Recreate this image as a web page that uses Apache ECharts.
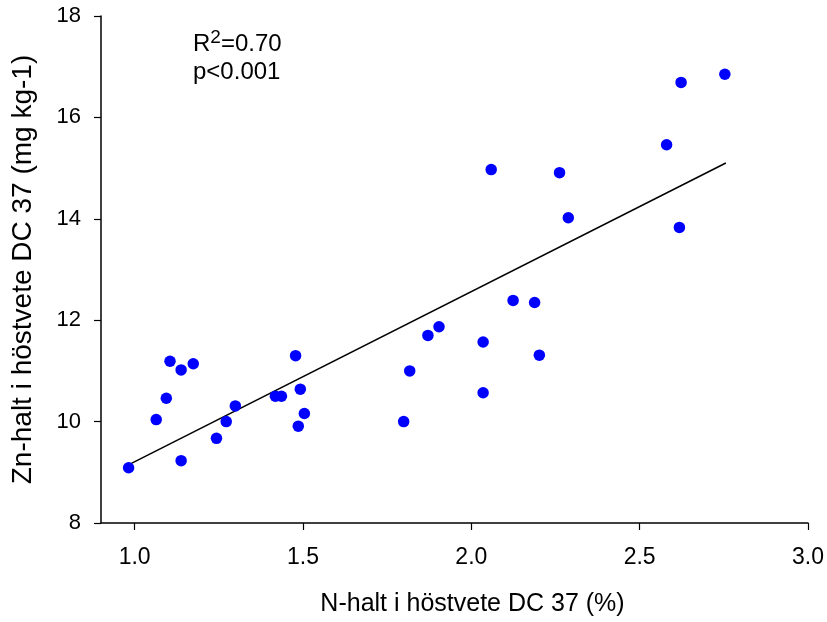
<!DOCTYPE html>
<html><head><meta charset="utf-8">
<script src="https://cdn.jsdelivr.net/npm/echarts@6/dist/echarts.min.js"></script>
<style>html,body{margin:0;padding:0;background:#fff}#c{width:827px;height:622px}</style>
</head><body><div id="c"></div>
<script>
const xValues = [0.982,1.064,1.094,1.105,1.138,1.174,1.138,1.243,1.272,1.299,1.418,1.436,1.478,1.492,1.486,1.504,1.799,1.817,1.871,1.904,2.059,2.262,2.288,2.580,2.618,2.124,2.188,2.035,2.202,2.035,2.623,2.753];
const yValues = [9.09,10.04,10.46,11.19,11.02,11.14,9.23,9.67,10.00,10.31,10.50,10.50,11.30,10.64,9.91,10.16,10.00,11.00,11.70,11.87,14.97,14.91,14.02,15.46,13.83,12.39,12.35,11.57,11.31,10.57,16.69,16.85];
const fitX = [0.98, 2.756];
const fitY = [9.14, 15.10];
const xTicks = [1.0, 1.5, 2.0, 2.5, 3.0];
const yTicks = [8, 10, 12, 14, 16, 18];
const xTitle = 'N-halt i höstvete DC 37 (%)';
const yTitle = 'Zn-halt i höstvete DC 37 (mg kg-1)';
const statR = '0.70';
const statP = '<0.001';

const font = 'Liberation Sans, Arial, sans-serif';
const chart = echarts.init(document.getElementById('c'), null, {renderer:'canvas'});
chart.setOption({
  animation:false,
  grid:{left:101, right:19, top:16, bottom:98},
  xAxis:{type:'value', min:0.9, max:3.0, interval:0.5,
    axisLine:{onZero:false, lineStyle:{color:'#000', width:1.5}},
    axisTick:{show:true, length:7, lineStyle:{color:'#000', width:1.2}, customValues: xTicks},
    axisLabel:{color:'#000', fontSize:23, fontFamily:font, margin:23, customValues: xTicks, formatter:v=>v.toFixed(1)},
    splitLine:{show:false},
    name:xTitle, nameLocation:'middle', nameGap:69,
    nameTextStyle:{color:'#000', fontSize:25, fontFamily:font, padding:[0,0,0,36]}},
  yAxis:{type:'value', min:8, max:18, interval:2,
    axisLine:{show:true, onZero:false, lineStyle:{color:'#000', width:1.5}},
    axisTick:{show:true, length:7, lineStyle:{color:'#000', width:1.2}, customValues: yTicks},
    axisLabel:{color:'#000', fontSize:22, fontFamily:font, margin:20, customValues: yTicks},
    splitLine:{show:false},
    name:yTitle, nameLocation:'middle', nameGap:64,
    nameTextStyle:{color:'#000', fontSize:28, fontFamily:font}},
  series:[
    {type:'line', data:fitX.map((x,i)=>[x,fitY[i]]), symbol:'none',
      lineStyle:{color:'#000', width:1.5}, z:1},
    {type:'scatter', data:xValues.map((x,i)=>[x,yValues[i]]), symbolSize:11.5,
      itemStyle:{color:'#0000ff', opacity:1}, z:2}
  ],
  graphic:[{type:'text', left:193, top:28, style:{
    text:'{a|R}{s|2}{a|=' + statR + '}\n{a|p' + statP + '}',
    rich:{a:{fontSize:24, fontFamily:font, fill:'#000', lineHeight:28, verticalAlign:'bottom'},
          s:{fontSize:19, fontFamily:font, fill:'#000', lineHeight:28, verticalAlign:'top'}},
    fill:'#000'}}]
});
</script></body></html>
